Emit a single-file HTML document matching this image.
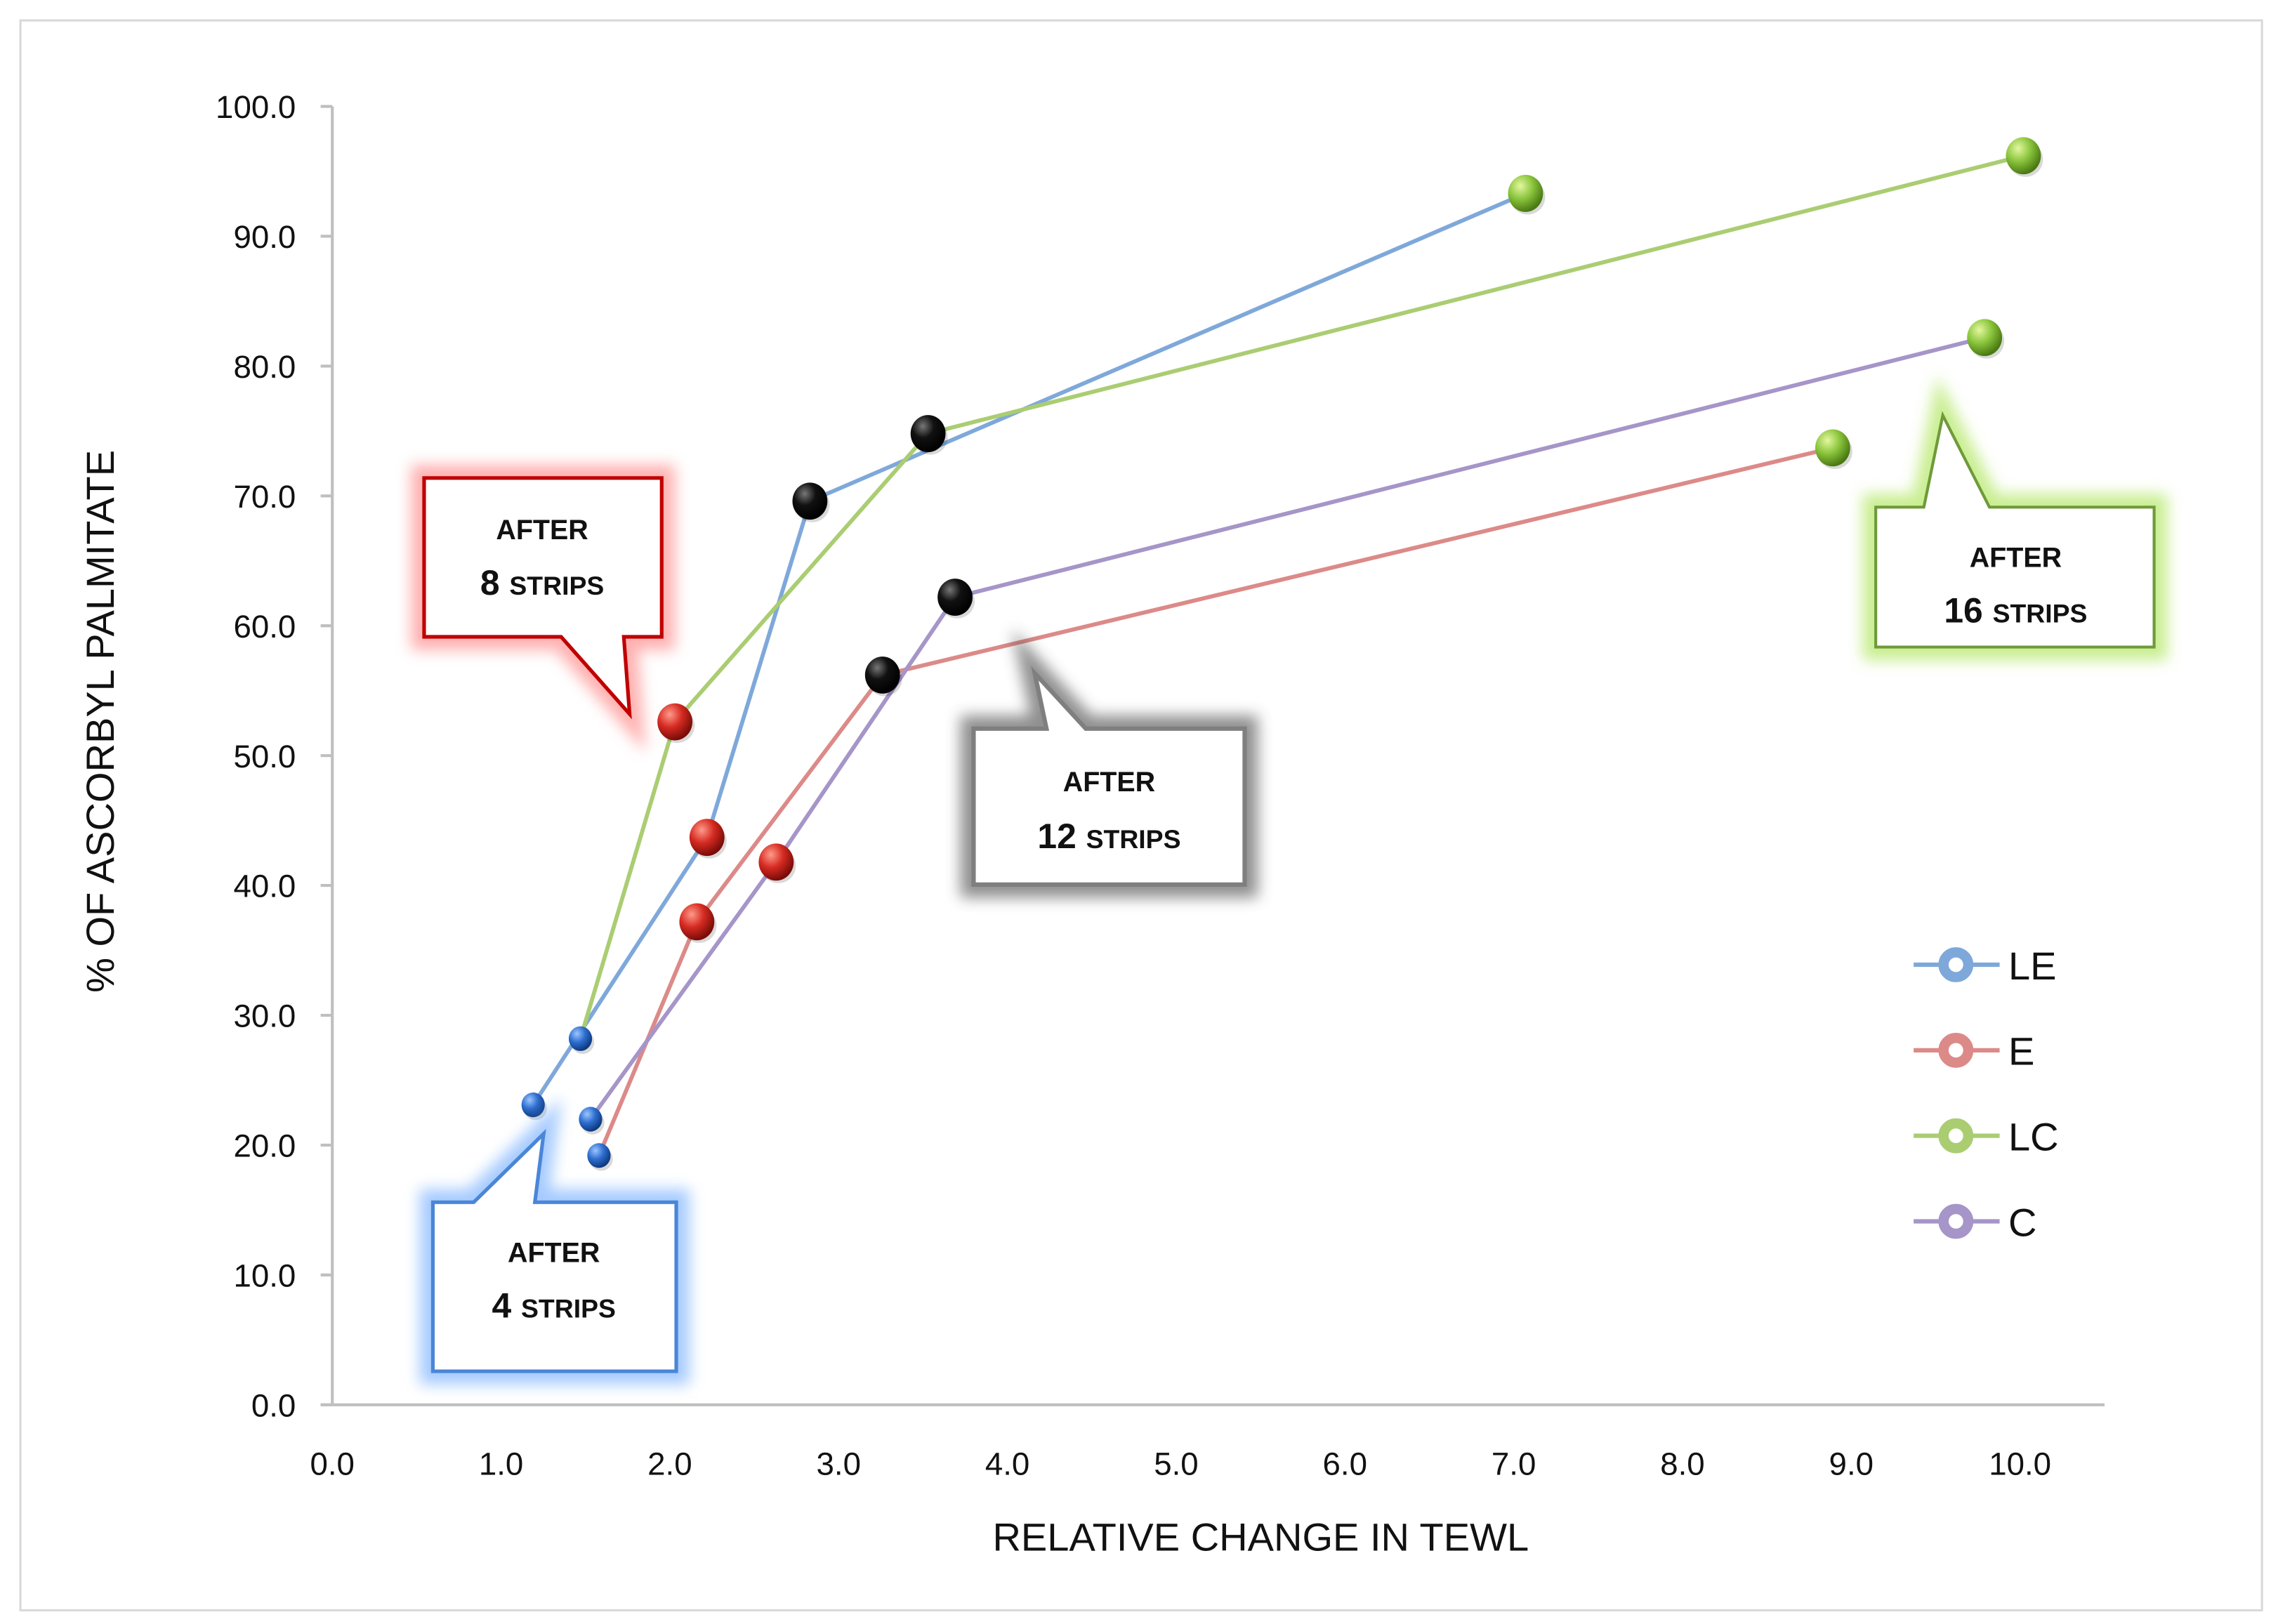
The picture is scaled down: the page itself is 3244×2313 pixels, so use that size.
<!DOCTYPE html>
<html><head><meta charset="utf-8"><style>
html,body{margin:0;padding:0;background:#fff}
svg{display:block}
text{font-family:"Liberation Sans",sans-serif}
.tk{font-size:22px;fill:#111}
.co{font-family:"Liberation Sans",sans-serif;font-weight:bold;fill:#111}
</style></head><body>
<svg id="chart" width="3244" height="2313" viewBox="0 0 1563 1114.4" xmlns="http://www.w3.org/2000/svg">
<defs>
<filter id="glow" x="-30%" y="-30%" width="160%" height="160%"><feGaussianBlur stdDeviation="5"/></filter>
<radialGradient id="g0" cx="35%" cy="30%" r="70%"><stop offset="0" stop-color="#9cc6ff"/><stop offset="0.5" stop-color="#2f6fd0"/><stop offset="1" stop-color="#0d3a80"/></radialGradient>
<radialGradient id="g1" cx="35%" cy="30%" r="70%"><stop offset="0" stop-color="#ff9a8a"/><stop offset="0.5" stop-color="#d62b22"/><stop offset="1" stop-color="#7a0c08"/></radialGradient>
<radialGradient id="g2" cx="35%" cy="30%" r="70%"><stop offset="0" stop-color="#777"/><stop offset="0.45" stop-color="#111"/><stop offset="1" stop-color="#000"/></radialGradient>
<radialGradient id="g3" cx="35%" cy="30%" r="70%"><stop offset="0" stop-color="#e4f7a0"/><stop offset="0.5" stop-color="#8cc63e"/><stop offset="1" stop-color="#4a7a12"/></radialGradient>
</defs>
<rect x="14" y="14" width="1538" height="1091" fill="#fff" stroke="#d9d9d9" stroke-width="1.5"/>
<g id="axes"></g>
<g id="series"></g>
<g id="callouts">
 <g>
  <path d="M291,328 H454 V437 H428 L432,490 L385,437 H291 Z" fill="none" stroke="#ff7070" stroke-width="18" opacity="0.55" filter="url(#glow)"/>
  <path d="M291,328 H454 V437 H428 L432,490 L385,437 H291 Z" fill="#fff" stroke="#c00000" stroke-width="2.5"/>
  <text class="co" x="372" y="370" text-anchor="middle" font-size="19">AFTER</text>
  <text class="co" x="372" y="408" text-anchor="middle"><tspan font-size="24">8 </tspan><tspan font-size="18">STRIPS</tspan></text>
 </g>
 <g>
  <path d="M668,500 H718 L710,462 L745,500 H854 V607 H668 Z" fill="none" stroke="#444" stroke-width="18" opacity="0.6" filter="url(#glow)"/>
  <path d="M668,500 H718 L710,462 L745,500 H854 V607 H668 Z" fill="#fff" stroke="#7f7f7f" stroke-width="3"/>
  <text class="co" x="761" y="543" text-anchor="middle" font-size="19">AFTER</text>
  <text class="co" x="761" y="582" text-anchor="middle"><tspan font-size="24">12 </tspan><tspan font-size="18">STRIPS</tspan></text>
 </g>
 <g>
  <path d="M297,825 H325 L373,778 L367,825 H464 V941 H297 Z" fill="none" stroke="#6aa8ff" stroke-width="18" opacity="0.6" filter="url(#glow)"/>
  <path d="M297,825 H325 L373,778 L367,825 H464 V941 H297 Z" fill="#fff" stroke="#4a86d8" stroke-width="2.5"/>
  <text class="co" x="380" y="866" text-anchor="middle" font-size="19">AFTER</text>
  <text class="co" x="380" y="904" text-anchor="middle"><tspan font-size="24">4 </tspan><tspan font-size="18">STRIPS</tspan></text>
 </g>
 <g>
  <path d="M1287,348 H1320 L1333,285 L1365,348 H1478 V444 H1287 Z" fill="none" stroke="#b6e86a" stroke-width="18" opacity="0.75" filter="url(#glow)"/>
  <path d="M1287,348 H1320 L1333,285 L1365,348 H1478 V444 H1287 Z" fill="#fff" stroke="#6f9a3a" stroke-width="2"/>
  <text class="co" x="1383" y="389" text-anchor="middle" font-size="19">AFTER</text>
  <text class="co" x="1383" y="427" text-anchor="middle"><tspan font-size="24">16 </tspan><tspan font-size="18">STRIPS</tspan></text>
 </g>
</g>
<g id="legend"></g>
<text x="865" y="1064" text-anchor="middle" font-size="27" fill="#111">RELATIVE CHANGE IN TEWL</text>
<text transform="translate(78,495) rotate(-90)" text-anchor="middle" font-size="27" fill="#111">% OF ASCORBYL PALMITATE</text>
</svg>
<script>
const seriesNames = ["LE","E","LC","C"];
const seriesColors = ["#7fa8da","#dc8a88","#aacd72","#a695c8"];
const xLE = [1.19, 2.22, 2.83, 7.07];
const yLE = [23.1, 43.7, 69.6, 93.3];
const xE = [1.58, 2.16, 3.26, 8.89];
const yE = [19.2, 37.2, 56.2, 73.7];
const xLC = [1.47, 2.03, 3.53, 10.02];
const yLC = [28.2, 52.6, 74.8, 96.2];
const xC = [1.53, 2.63, 3.69, 9.79];
const yC = [22.0, 41.8, 62.2, 82.2];
const xTicks = ["0.0","1.0","2.0","3.0","4.0","5.0","6.0","7.0","8.0","9.0","10.0"];
const yTicks = ["0.0","10.0","20.0","30.0","40.0","50.0","60.0","70.0","80.0","90.0","100.0"];

const NS = "http://www.w3.org/2000/svg";
const X0=228, X1=1386, Y0=964, Y1=73;
function sx(v){return X0+(X1-X0)*v/10;}
function sy(v){return Y0-(Y0-Y1)*v/100;}
function mk(tag, attrs, parent){const e=document.createElementNS(NS,tag);for(const k in attrs)e.setAttribute(k,attrs[k]);parent.appendChild(e);return e;}

const axes=document.getElementById('axes');
let yl=mk('line',{x1:X0,y1:Y1,x2:X0,y2:Y0,stroke:'#bfbfbf','stroke-width':2},axes);


let xl=mk('line',{x1:X0-8,y1:Y0,x2:1444,y2:Y0,stroke:'#bfbfbf','stroke-width':2},axes);


yTicks.forEach((t,i)=>{
  const v=parseFloat(t);
  mk('line',{x1:X0-8,y1:sy(v),x2:X0,y2:sy(v),stroke:'#bfbfbf','stroke-width':2},axes);
  const tx=mk('text',{x:X0-25,y:sy(v)+8,'text-anchor':'end',class:'tk'},axes);
  tx.textContent=t;
  
  
});
xTicks.forEach((t,i)=>{
  const v=parseFloat(t);
  const tx=mk('text',{x:sx(v),y:1012,'text-anchor':'middle',class:'tk'},axes);
  tx.textContent=t;
  
  
});

const xs=[xLE,xE,xLC,xC], ys=[yLE,yE,yLC,yC];
const sg=document.getElementById('series');
xs.forEach((xa,s)=>{
  const pts=xa.map((x,i)=>sx(x)+','+sy(ys[s][i])).join(' ');
  const pl=mk('polyline',{points:pts,fill:'none',stroke:seriesColors[s],'stroke-width':2.8},sg);
  
  
});
xs.forEach((xa,s)=>{
  xa.forEach((x,i)=>{
    const r = i===0?8:12;
    const cx=sx(x), cy=sy(ys[s][i]);
    mk('ellipse',{cx:cx+1.5,cy:cy+2.5,rx:r,ry:r,fill:'#000',opacity:0.15},sg);
    const c=mk('ellipse',{cx:cx,cy:cy,rx:r,ry:r*1.06,fill:'url(#g'+i+')'},sg);
    
    
  });
});

const lg=document.getElementById('legend');
seriesNames.forEach((n,s)=>{
  const y=662+s*58.7;
  const g=mk('g',{},lg);
  
  
  mk('line',{x1:1313,y1:y,x2:1372,y2:y,stroke:seriesColors[s],'stroke-width':3},g);
  mk('circle',{cx:1342,cy:y,r:8.5,fill:'#fff',stroke:seriesColors[s],'stroke-width':7},g);
  const t=mk('text',{x:1378,y:y+10,'font-size':27,fill:'#111'},g);
  t.textContent=n;
});
</script>
</body></html>
